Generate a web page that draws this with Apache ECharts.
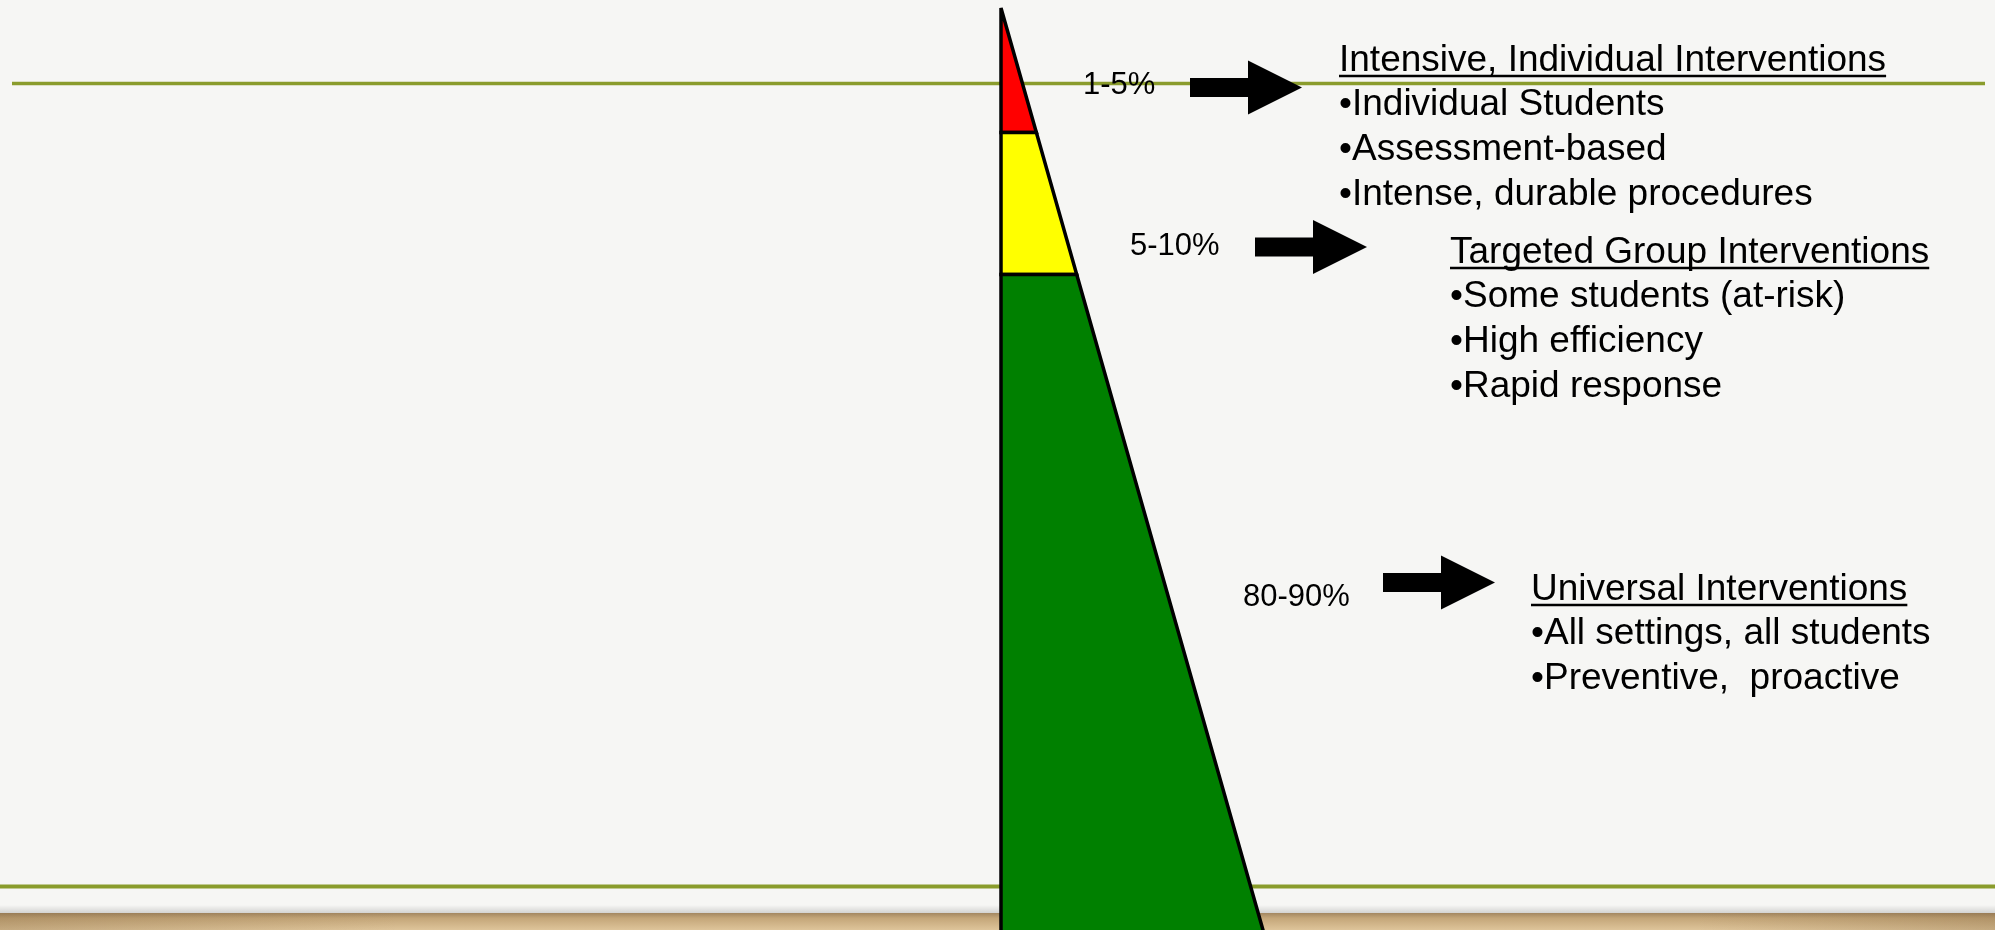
<!DOCTYPE html>
<html><head><meta charset="utf-8">
<script src="https://cdn.jsdelivr.net/npm/echarts@6/dist/echarts.min.js"></script>
<style>html,body{margin:0;padding:0;background:#f6f6f4;overflow:hidden}#c{width:1995px;height:930px}</style>
</head><body><div id="c"></div>
<script>
// ---- data ----
const tierNames = ['Intensive, Individual Interventions', 'Targeted Group Interventions', 'Universal Interventions'];
const tierShares = ['1-5%', '5-10%', '80-90%'];
const tierBullets = [
  ['Individual Students', 'Assessment-based', 'Intense, durable procedures'],
  ['Some students (at-risk)', 'High efficiency', 'Rapid response'],
  ['All settings, all students', 'Preventive,  proactive']
];
// tier boundaries as depth below the apex (0 = apex, 100 = bottom of slide)
const tierTop = [0, 13.5, 28.9];
const tierBottom = [13.5, 28.9, 102];

// ---- style / layout ----
const tierColors = ['#ff0000', '#ffff00', '#008000'];
const FONT = '"Liberation Sans", Arial, sans-serif';
const titleSize = 37, shareSize = 31, lineGap = 44.7;
const blockPos = [{x: 1339, y: 72}, {x: 1450, y: 264}, {x: 1531, y: 601}]; // title baselines
const sharePos = [{x: 1083, y: 95}, {x: 1130, y: 256}, {x: 1243, y: 607}];
const arrowPos = [{x: 1190, y: 87.5}, {x: 1255, y: 247}, {x: 1383, y: 582.5}];

const measure = (function () {
  const ctx = document.createElement('canvas').getContext('2d');
  return function (t, size) { ctx.font = size + 'px ' + FONT; return ctx.measureText(t).width; };
})();
const mid = (baseline, size) => baseline - 0.31 * size;

const chart = echarts.init(document.getElementById('c'), null, {renderer: 'canvas'});

const graphics = [];
// slide decoration
graphics.push({type: 'rect', z: 0, shape: {x: 0, y: 905, width: 1995, height: 8},
  style: {fill: new echarts.graphic.LinearGradient(0, 0, 0, 1, [{offset: 0, color: 'rgba(0,0,0,0)'}, {offset: 1, color: 'rgba(0,0,0,0.14)'}])}});
graphics.push({type: 'rect', z: 0, shape: {x: 0, y: 913, width: 1995, height: 17},
  style: {fill: new echarts.graphic.LinearGradient(0, 0, 0, 1, [{offset: 0, color: '#a38761'}, {offset: 0.3, color: '#c4a679'}, {offset: 1, color: '#dec49a'}])}});
graphics.push({type: 'rect', z: 0, shape: {x: 0, y: 913, width: 1995, height: 17},
  style: {fill: new echarts.graphic.LinearGradient(0, 0, 1, 0, [{offset: 0, color: 'rgba(120,90,50,0.25)'}, {offset: 0.2, color: 'rgba(120,90,50,0)'}, {offset: 0.85, color: 'rgba(120,90,50,0)'}, {offset: 1, color: 'rgba(120,90,50,0.25)'}])}});
graphics.push({type: 'line', z: 0, shape: {x1: 12, y1: 83.5, x2: 1985, y2: 83.5}, style: {stroke: '#8a9c2c', lineWidth: 3.5}});
graphics.push({type: 'line', z: 0, shape: {x1: 0, y1: 886.5, x2: 1995, y2: 886.5}, style: {stroke: '#8a9c2c', lineWidth: 4}});

tierNames.forEach(function (name, i) {
  const p = blockPos[i];
  graphics.push({type: 'text', z: 10, style: {text: name, x: p.x, y: mid(p.y, titleSize), font: titleSize + 'px ' + FONT, fill: '#000', verticalAlign: 'middle', align: 'left'}});
  graphics.push({type: 'line', z: 10, shape: {x1: p.x, y1: p.y + 4, x2: p.x + measure(name, titleSize), y2: p.y + 4}, style: {stroke: '#000', lineWidth: 2.5}});
  tierBullets[i].forEach(function (b, j) {
    graphics.push({type: 'text', z: 10, style: {text: '\u2022' + b, x: p.x, y: mid(p.y + (j + 1) * lineGap, titleSize), font: titleSize + 'px ' + FONT, fill: '#000', verticalAlign: 'middle', align: 'left'}});
  });
  const s = sharePos[i];
  graphics.push({type: 'text', z: 10, style: {text: tierShares[i], x: s.x, y: mid(s.y, shareSize), font: shareSize + 'px ' + FONT, fill: '#000', verticalAlign: 'middle', align: 'left'}});
  const a = arrowPos[i];
  graphics.push({type: 'polygon', z: 10, shape: {points: [
    [a.x, a.y - 9.5], [a.x + 58, a.y - 9.5], [a.x + 58, a.y - 27], [a.x + 112, a.y],
    [a.x + 58, a.y + 27], [a.x + 58, a.y + 9.5], [a.x, a.y + 9.5]]}, style: {fill: '#000'}});
});

chart.setOption({
  backgroundColor: '#f6f6f4',
  animation: false,
  grid: {left: 1001, top: 8, width: 262, height: 922, containLabel: false},
  xAxis: {type: 'value', min: 0, max: 1, show: false},
  yAxis: {type: 'value', min: 0, max: 100, inverse: true, show: false},
  graphic: graphics,
  series: [{
    type: 'custom',
    clip: false,
    z: 2,
    data: tierTop.map((t, i) => [t, tierBottom[i], i]),
    renderItem: function (params, api) {
      const t = api.value(0), b = api.value(1), i = api.value(2);
      const pts = [api.coord([0, t]), api.coord([t / 100, t]), api.coord([b / 100, b]), api.coord([0, b])];
      return {type: 'polygon', shape: {points: pts},
        style: {fill: tierColors[i], stroke: '#000', lineWidth: 3.5, lineJoin: 'miter', miterLimit: 2}};
    }
  }]
});
</script>
</body></html>
